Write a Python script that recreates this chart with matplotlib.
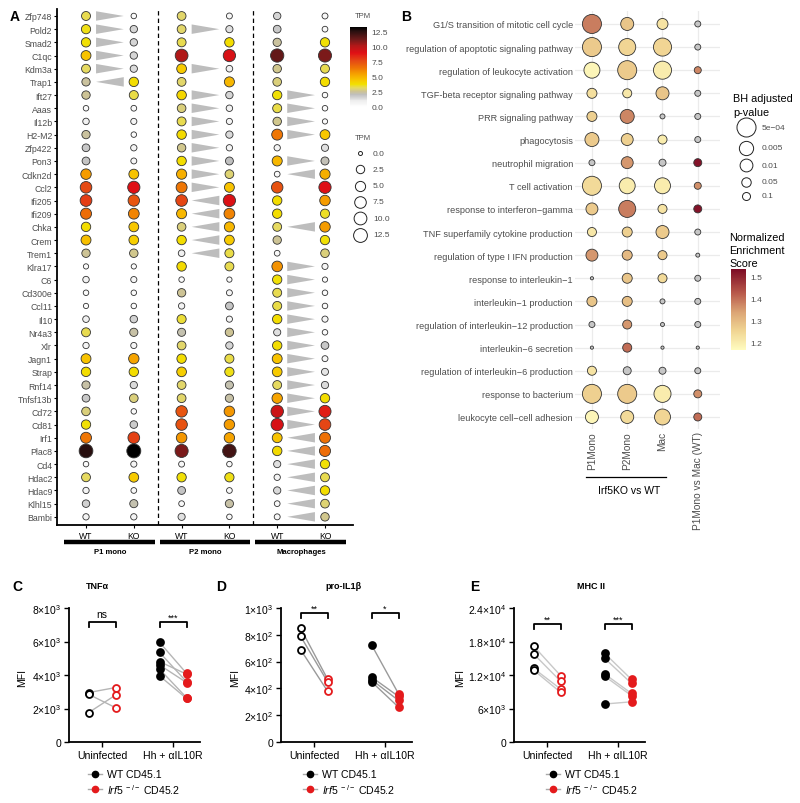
import numpy as np
import matplotlib
matplotlib.use('Agg')
import matplotlib.pyplot as plt
from matplotlib.colors import LinearSegmentedColormap, Normalize
from matplotlib.patches import Polygon
import matplotlib.colorbar as mcb

plt.rcParams['font.family'] = ['Liberation Sans', 'DejaVu Sans']
plt.rcParams['mathtext.fontset'] = 'custom'
plt.rcParams['mathtext.rm'] = 'Liberation Sans'
plt.rcParams['mathtext.it'] = 'Liberation Sans:italic'
plt.rcParams['mathtext.bf'] = 'Liberation Sans:bold'

# ---------------- Panel A data (TPM) ----------------
genes = ["Zfp748", "Pold2", "Smad2", "C1qc", "Kdm3a", "Trap1", "Ift27", "Aaas", "Il12b", "H2-M2",
         "Zfp422", "Pon3", "Cdkn2d", "Ccl2", "Ifi205", "Ifi209", "Chka", "Crem", "Trem1", "Klra17",
         "C6", "Cd300e", "Ccl11", "Il10", "Nr4a3", "Xlr", "Jagn1", "Strap", "Rnf14", "Tnfsf13b",
         "Cd72", "Cd81", "Irf1", "Plac8", "Cd4", "Hdac2", "Hdac9", "Klhl15", "Bambi"]
P1_WT = [3.2, 3.6, 3.7, 4.5, 3.1, 2.4, 2.5, 0.3, 0.8, 2.4, 1.8, 1.9, 5.5, 7.5, 7.8, 6.5, 3.8, 4.6, 2.5, 0.2,
         0.8, 0.3, 0.2, 0.9, 3.2, 0.7, 4.5, 3.8, 2.3, 1.8, 2.8, 3.7, 6.3, 12.3, 0.3, 3.1, 0.7, 1.6, 0.7]
P1_KO = [0.3, 1.5, 1.5, 1.5, 1.4, 3.8, 3.3, 0.4, 0.6, 0.3, 0.7, 0.5, 4.5, 8.8, 7.2, 6.0, 4.4, 4.2, 2.6, 0.2,
         0.6, 0.3, 0.3, 1.6, 2.3, 0.6, 5.3, 3.8, 1.4, 2.8, 0.3, 1.7, 7.7, 13.0, 0.6, 4.3, 0.4, 2.2, 0.7]
P2_WT = [3.0, 3.0, 3.2, 10.0, 4.3, 3.0, 4.0, 2.8, 3.2, 3.9, 2.6, 3.8, 5.0, 6.3, 7.6, 4.8, 2.8, 3.8, 0.9, 3.9,
         0.3, 2.5, 0.7, 3.4, 2.2, 3.0, 3.8, 4.2, 3.0, 3.0, 7.2, 7.3, 5.6, 10.8, 0.5, 3.7, 1.9, 0.4, 1.3]
P2_KO = [0.5, 1.3, 3.8, 9.0, 0.9, 4.8, 1.5, 0.8, 0.6, 1.4, 0.7, 2.0, 2.9, 4.5, 8.9, 6.0, 4.8, 4.3, 3.3, 3.2,
         0.2, 0.5, 1.9, 0.6, 2.5, 1.5, 3.3, 3.6, 2.2, 2.3, 5.6, 5.5, 5.3, 11.8, 0.3, 3.6, 0.4, 2.3, 0.3]
MAC_WT = [1.5, 1.8, 2.4, 11.2, 2.6, 2.8, 3.7, 3.3, 2.6, 6.3, 0.7, 4.8, 0.4, 7.3, 3.8, 3.8, 3.1, 2.5, 0.4, 5.7,
          3.7, 3.2, 3.3, 3.8, 1.3, 3.8, 4.5, 4.3, 3.1, 5.3, 9.3, 9.0, 4.5, 3.9, 1.3, 0.7, 1.4, 0.4, 0.5]
MAC_KO = [0.5, 0.4, 3.7, 10.8, 3.2, 3.8, 0.3, 0.3, 0.2, 4.4, 1.3, 2.1, 5.0, 8.8, 5.5, 3.5, 5.5, 3.7, 2.8, 0.6,
          0.2, 0.3, 0.3, 0.6, 0.3, 1.8, 0.5, 1.2, 1.4, 3.8, 8.5, 7.6, 6.4, 6.5, 3.7, 3.2, 3.8, 2.9, 2.6]
# direction of change KO vs WT: -1 lower in KO, +1 higher in KO, 0 none
P1_DIR = [-1, -1, -1, -1, -1, 1] + [0] * 33
P2_DIR = [0, -1, 0, 0, -1, 0, -1, -1, -1, -1, -1, -1, -1, -1, 1, 1, 1, 1, 1] + [0] * 20
MAC_DIR = [0, 0, 0, 0, 0, 0, -1, -1, -1, -1, 0, -1, 1, 0, 0, 0, 1, 0, 0,
           -1, -1, -1, -1, -1, -1, -1, -1, -1, -1, -1, -1, -1, 1, 1, 1, 1, 1, 1, 1]
a_xlabels = ["WT", "KO", "WT", "KO", "WT", "KO"]
a_groups = ["P1 mono", "P2 mono", "Macrophages"]
tpm_legend = [0.0, 2.5, 5.0, 7.5, 10.0, 12.5]

# ---------------- Panel B data ----------------
pathways = ["G1/S transition of mitotic cell cycle", "regulation of apoptotic signaling pathway",
            "regulation of leukocyte activation", "TGF-beta receptor signaling pathway",
            "PRR signaling pathway", "phagocytosis", "neutrophil migration", "T cell activation",
            "response to interferon\u2212gamma", "TNF superfamily cytokine production",
            "regulation of type I IFN production", "response to interleukin\u22121",
            "interleukin\u22121 production", "regulation of interleukin\u221212 production",
            "interleukin\u22126 secretion", "regulation of interleukin\u22126 production",
            "response to bacterium", "leukocyte cell\u2212cell adhesion"]
b_columns = ["P1Mono", "P2Mono", "Mac", "P1Mono vs Mac (WT)"]
nan = np.nan
PADJ_P1 = [5e-4, 5e-4, 2.2e-3, 0.038, 0.038, 5.6e-3, 0.26, 5e-4, 0.015, 0.06, 0.015, 1.0, 0.038, 0.26, 1.0, 0.06, 5e-4, 9e-3]
PADJ_P2 = [9e-3, 1.3e-3, 5e-4, 0.06, 5.6e-3, 0.015, 0.015, 2.2e-3, 1.3e-3, 0.038, 0.038, 0.038, 0.038, 0.06, 0.06, 0.1, 5e-4, 9e-3]
PADJ_MAC = [0.024, 8e-4, 8e-4, 9e-3, 0.42, 0.06, 0.16, 2.2e-3, 0.06, 9e-3, 0.06, 0.06, 0.42, 0.68, 1.0, 0.16, 1.3e-3, 2.2e-3]
PADJ_WT = [0.26, 0.26, 0.16, 0.26, 0.26, 0.26, 0.1, 0.16, 0.1, 0.26, 0.68, 0.26, 0.26, 0.26, 1.0, 0.26, 0.1, 0.1]
NES_P1 = [1.38, 1.27, 1.18, 1.23, 1.26, 1.27, nan, 1.24, 1.27, 1.21, 1.35, nan, 1.28, nan, nan, 1.22, 1.26, 1.18]
NES_P2 = [1.28, 1.25, 1.27, 1.21, 1.37, 1.26, 1.35, 1.20, 1.38, 1.26, 1.30, 1.28, 1.29, 1.35, 1.40, nan, 1.27, 1.24]
NES_MAC = [1.22, 1.25, 1.20, 1.28, nan, 1.20, nan, 1.20, 1.22, 1.27, 1.27, 1.24, nan, nan, nan, nan, 1.20, 1.25]
NES_WT = [nan, nan, 1.37, nan, nan, nan, 1.52, 1.36, 1.52, nan, nan, nan, nan, nan, nan, nan, 1.36, 1.40]
p_legend = [5e-4, 0.005, 0.01, 0.05, 0.1]
p_legend_labels = ["5e\u221204", "0.005", "0.01", "0.05", "0.1"]

# ---------------- Panels C-E data (MFI) ----------------
conditions = ["Uninfected", "Hh + \u03b1IL10R"]
TNF_UN_WT = [2950, 2850, 1750]; TNF_UN_KO = [3250, 2050, 2800]
TNF_HH_WT = [5950, 5350, 4800, 4600, 4350, 3950]; TNF_HH_KO = [4100, 3600, 4050, 3550, 2650, 2600]
IL1_UN_WT = [850, 790, 690]; IL1_UN_KO = [470, 450, 380]
IL1_HH_WT = [725, 485, 465, 450]; IL1_HH_KO = [360, 340, 310, 260]
MHC_UN_WT = [17200, 15800, 13200, 12900]; MHC_UN_KO = [11900, 10900, 9500, 8900]
MHC_HH_WT = [15900, 15000, 12200, 11800, 6800]; MHC_HH_KO = [11200, 10500, 8700, 8300, 7200]

W, H = 800, 804
fig = plt.figure(figsize=(8, 8.04), dpi=100)


def rect(x0, y0, x1, y1):
    return [x0 / W, 1 - y1 / H, (x1 - x0) / W, (y1 - y0) / H]


ov = fig.add_axes([0, 0, 1, 1], zorder=10)
ov.set_xlim(0, W); ov.set_ylim(H, 0); ov.axis('off'); ov.patch.set_alpha(0)

TXT = '#4d4d4d'

# colormaps
cmapA = LinearSegmentedColormap.from_list('tpm', [
    (0.0 / 13, '#ffffff'), (1.0 / 13, '#eeeeee'), (1.5 / 13, '#d4d4d4'), (2.0 / 13, '#bfbfbf'),
    (2.5 / 13, '#cdc395'), (3.1 / 13, '#e6da62'), (3.7 / 13, '#f2e000'), (4.4 / 13, '#f8c600'),
    (5.5 / 13, '#f59c00'), (6.4 / 13, '#ee7206'), (7.5 / 13, '#e54a14'), (8.8 / 13, '#e01015'),
    (10.0 / 13, '#b01818'), (11.0 / 13, '#6e1a1a'), (12.3 / 13, '#2a1010'), (1.0, '#000000')])
normA = Normalize(0, 13)
cmapB = LinearSegmentedColormap.from_list('nes', [
    (0.0, '#fffcc0'), (0.24, '#f0d492'), (0.46, '#dca676'), (0.7, '#b95a4b'), (1.0, '#7d0b25')])
normB = Normalize(1.164, 1.532)


def dA(v):
    return 4 + 10 * np.sqrt(np.asarray(v) / 13.0)


def dB(p):
    return 3.2 + 4.8 * (-np.log10(np.asarray(p)))


# ================= Panel A =================
axA = fig.add_axes(rect(57, 10, 353, 526))
ny = len(genes)
yy = np.arange(ny)
for j, vals in enumerate([P1_WT, P1_KO, P2_WT, P2_KO, MAC_WT, MAC_KO]):
    v = np.array(vals)
    axA.scatter(np.full(ny, j), yy, s=(dA(v) * 0.72) ** 2, c=v, cmap=cmapA, norm=normA,
                edgecolors='#333333', linewidths=0.6, zorder=3)
for g, dirs in enumerate([P1_DIR, P2_DIR, MAC_DIR]):
    xw, xk = 2 * g, 2 * g + 1
    a, b = xw + 0.21, xk - 0.21
    for i, dv in enumerate(dirs):
        if dv == 0:
            continue
        if dv < 0:
            pts = [(a, i - 0.36), (a, i + 0.36), (b, i)]
        else:
            pts = [(b, i - 0.36), (b, i + 0.36), (a, i)]
        axA.add_patch(Polygon(pts, closed=True, facecolor='#bdbdbd', edgecolor='none', zorder=2))
for xv in (1.5, 3.5):
    axA.axvline(xv, color='black', lw=0.9, ls=(0, (3.5, 2.5)), zorder=1)
axA.set_xlim(-0.607, 5.586)
axA.set_ylim(38.62, -0.53)
axA.set_yticks(yy)
axA.set_yticklabels(genes, fontsize=6.3, color=TXT)
axA.set_xticks(range(6))
axA.set_xticklabels(a_xlabels, fontsize=6.2, color='black')
axA.tick_params(axis='y', length=2.5, width=0.8, pad=1)
axA.tick_params(axis='x', length=2.5, width=0.8, pad=2)
for s in ('top', 'right'):
    axA.spines[s].set_visible(False)
axA.spines['left'].set_linewidth(1.3)
axA.spines['bottom'].set_linewidth(1.3)
trA = axA.get_xaxis_transform()
for g, name in enumerate(a_groups):
    axA.plot([2 * g - 0.46, 2 * g + 1.44], [-0.033, -0.033], color='black', lw=3.2,
             transform=trA, clip_on=False, solid_capstyle='butt')
    axA.text(2 * g + 0.5, -0.052, name, transform=trA, ha='center', va='center',
             fontsize=5.6, fontweight='bold')

# Panel A legends
ov.text(355, 17, "TPM", fontsize=5.5, color=TXT, va='center', ha='left')
caxA = fig.add_axes(rect(350, 28, 367, 108))
cbA = mcb.ColorbarBase(caxA, cmap=cmapA, norm=Normalize(-0.15, 13.2), ticks=tpm_legend)
cbA.outline.set_visible(False)
caxA.set_yticklabels([f"{t:.1f}" for t in tpm_legend], fontsize=6, color=TXT)
caxA.tick_params(length=0, pad=3)
ov.text(355, 139, "TPM", fontsize=5.5, color=TXT, va='center', ha='left')
for k, t in enumerate(tpm_legend):
    yk = 154 + 16.3 * k
    ov.scatter([360], [yk], s=(dA(t) * 0.72) ** 2, facecolor='white', edgecolor='#222222', linewidths=0.7)
    ov.text(373, yk, f"{t:.1f}", fontsize=6, color=TXT, va='center', ha='left')

ov.text(10, 17, "A", fontsize=10, fontweight='bold', va='center', ha='left')
ov.text(401, 17, "B", fontsize=10, fontweight='bold', va='center', ha='left')

# ================= Panel B =================
axB = fig.add_axes(rect(575, 12, 720, 430))
nb = len(pathways)
for j, (pv, nv) in enumerate([(PADJ_P1, NES_P1), (PADJ_P2, NES_P2), (PADJ_MAC, NES_MAC), (PADJ_WT, NES_WT)]):
    pv = np.array(pv); nv = np.array(nv)
    cols = [cmapB(normB(n)) if not np.isnan(n) else '#c6c6c6' for n in nv]
    axB.scatter(np.full(nb, j), np.arange(nb), s=(dB(pv) * 0.72) ** 2, c=cols,
                edgecolors='#333333', linewidths=0.6, zorder=3)
axB.set_xlim(-0.48, 3.63)
axB.set_ylim(17.52, -0.56)
axB.set_yticks(np.arange(nb))
axB.set_yticklabels(pathways, fontsize=6.6, color=TXT)
axB.set_xticks(range(4))
axB.set_xticklabels(b_columns, rotation=90, fontsize=7.3, color=TXT)
axB.tick_params(length=0, pad=1.5)
axB.grid(True, color='#ebebeb', lw=0.9)
axB.set_axisbelow(True)
for s in axB.spines.values():
    s.set_visible(False)
trB = axB.get_xaxis_transform()
axB.plot([-0.17, 2.1], [-0.115, -0.115], color='black', lw=0.9, transform=trB, clip_on=False)
axB.text(1.05, -0.145, "Irf5KO vs WT", transform=trB, ha='center', va='center', fontsize=7.5)

# Panel B legends
ov.text(733, 99, "BH adjusted", fontsize=7.8, va='center', ha='left')
ov.text(733, 113, "p-value", fontsize=7.8, va='center', ha='left')
for yk, p, lab in zip([128, 149, 166, 183, 197], p_legend, p_legend_labels):
    ov.scatter([746], [yk], s=(dB(p) * 0.72) ** 2, facecolor='white', edgecolor='#222222', linewidths=0.7)
    ov.text(762, yk, lab, fontsize=6, color=TXT, va='center', ha='left')
ov.text(729, 238, "Normalized", fontsize=7.8, va='center', ha='left')
ov.text(729, 251, "Enrichment", fontsize=7.8, va='center', ha='left')
ov.text(729, 264, "Score", fontsize=7.8, va='center', ha='left')
caxB = fig.add_axes(rect(731, 270, 746, 351))
cbB = mcb.ColorbarBase(caxB, cmap=cmapB, norm=normB, ticks=[1.2, 1.3, 1.4, 1.5])
cbB.outline.set_visible(False)
caxB.set_yticklabels(["1.2", "1.3", "1.4", "1.5"], fontsize=6, color=TXT)
caxB.tick_params(length=0, pad=3)

# ================= Panels C-E =================
RED = '#e41a1c'


def paired(L, letter, letter_x, title, title_x, ymax, yticks, ylabels, un_wt, un_ko, hh_wt, hh_ko,
           sigs, lcol, bfrac, mfi_x, leg_x):
    ax = fig.add_axes(rect(L, 609, L + 131, 743))
    ax.set_xlim(-0.465, 1.38)
    ax.set_ylim(0, ymax)
    off = 0.19
    for c, wt, ko, filled in [(0, un_wt, un_ko, False), (1, hh_wt, hh_ko, True)]:
        for a, b in zip(wt, ko):
            ax.plot([c - off, c + off], [a, b], color=lcol, lw=1.0, zorder=2, clip_on=False)
        ax.plot(np.full(len(wt), c - off), wt, 'o', ms=5, mfc='black' if filled else 'white',
                mec='black', mew=1.3, zorder=3, clip_on=False)
        ax.plot(np.full(len(ko), c + off), ko, 'o', ms=5, mfc=RED if filled else 'white',
                mec=RED, mew=1.3, zorder=3, clip_on=False)
    tr = ax.get_xaxis_transform()
    for c, s in zip([0, 1], sigs):
        ax.plot([c - off, c - off, c + off, c + off], [bfrac - 0.035, bfrac, bfrac, bfrac - 0.035],
                color='black', lw=1.3, transform=tr, clip_on=False)
        if s == 'ns':
            ax.text(c, bfrac + 0.025, s, transform=tr, ha='center', va='bottom', fontsize=7.5)
        else:
            ax.text(c, bfrac + 0.005, s, transform=tr, ha='center', va='bottom', fontsize=6.5)
    ax.set_yticks(yticks)
    ax.set_yticklabels(ylabels, fontsize=7.5)
    ax.set_xticks([0, 1])
    ax.set_xticklabels(conditions, fontsize=7.6)
    ax.tick_params(length=3.5, width=1.0, pad=2)
    for s in ('top', 'right'):
        ax.spines[s].set_visible(False)
    ax.spines['left'].set_linewidth(1.3)
    ax.spines['bottom'].set_linewidth(1.3)
    ov.text(mfi_x, 678, "MFI", rotation=90, fontsize=7.5, ha='center', va='center')
    ov.text(letter_x, 587, letter, fontsize=10, fontweight='bold', ha='left', va='center')
    ov.text(title_x, 587, title, fontsize=6.5, fontweight='bold', ha='center', va='center')
    for yk, col, lab in [(775, 'black', "WT CD45.1"),
                         (790, RED, r"$\mathit{Irf5}^{\ -/-}$ CD45.2")]:
        ov.plot([leg_x - 7, leg_x + 7], [yk, yk], color='#aaaaaa', lw=1.0)
        ov.plot([leg_x], [yk], 'o', ms=4.5, mfc=col, mec=col)
        ov.text(leg_x + 12, yk, lab, fontsize=7.6, ha='left', va='center')
    return ax


paired(69, "C", 12, "TNF\u03b1", 97, 8000, [0, 2000, 4000, 6000, 8000],
       ["0", r"$2{\times}10^{3}$", r"$4{\times}10^{3}$", r"$6{\times}10^{3}$", r"$8{\times}10^{3}$"],
       TNF_UN_WT, TNF_UN_KO, TNF_HH_WT, TNF_HH_KO, ["ns", "***"], '#b5b5b5', 0.895, 22, 95)
paired(281, "D", 216, "pro-IL1\u03b2", 343, 1000, [0, 200, 400, 600, 800, 1000],
       ["0", r"$2{\times}10^{2}$", r"$4{\times}10^{2}$", r"$6{\times}10^{2}$", r"$8{\times}10^{2}$",
        r"$1{\times}10^{3}$"],
       IL1_UN_WT, IL1_UN_KO, IL1_HH_WT, IL1_HH_KO, ["**", "*"], '#9a9a9a', 0.963, 235, 310)
paired(514, "E", 470, "MHC II", 591, 24000, [0, 6000, 12000, 18000, 24000],
       ["0", r"$6{\times}10^{3}$", r"$1.2{\times}10^{4}$", r"$1.8{\times}10^{4}$", r"$2.4{\times}10^{4}$"],
       MHC_UN_WT, MHC_UN_KO, MHC_HH_WT, MHC_HH_KO, ["**", "***"], '#c8c8c8', 0.88, 460, 553)

fig.savefig('out.png', dpi=100)
